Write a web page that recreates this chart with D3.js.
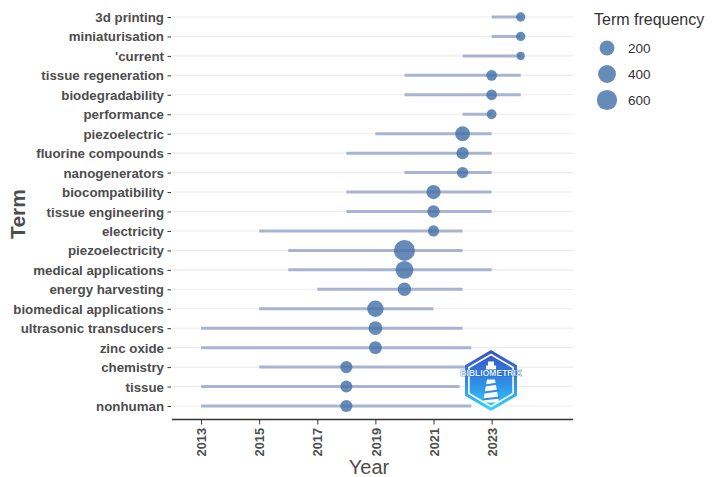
<!DOCTYPE html>
<html>
<head>
<meta charset="utf-8">
<script src="https://cdn.jsdelivr.net/npm/d3@7"></script>
<style>
  html, body { margin: 0; padding: 0; background: #fff; }
  svg { display: block; font-family: "Liberation Sans", Arial, sans-serif; }
</style>
</head>
<body>
<svg id="trend-svg" width="713" height="477"></svg>
<script>
// ── Data ─────────────────────────────────────────────────────────────────
const terms = [
  '3d printing', 'miniaturisation', "'current", 'tissue regeneration',
  'biodegradability', 'performance', 'piezoelectric', 'fluorine compounds',
  'nanogenerators', 'biocompatibility', 'tissue engineering', 'electricity',
  'piezoelectricity', 'medical applications', 'energy harvesting',
  'biomedical applications', 'ultrasonic transducers', 'zinc oxide',
  'chemistry', 'tissue', 'nonhuman'
];
const yearQ1  = [2023, 2023, 2022, 2020, 2020, 2022, 2019, 2018, 2020, 2018, 2018,
                 2015, 2016, 2016, 2017, 2015, 2013, 2013, 2015, 2013, 2013];
const yearMed = [2024, 2024, 2024, 2023, 2023, 2023, 2022, 2022, 2022, 2021, 2021,
                 2021, 2020, 2020, 2020, 2019, 2019, 2019, 2018, 2018, 2018];
const yearQ3  = [2024, 2024, 2024, 2024, 2024, 2023, 2023, 2023, 2023, 2023, 2023,
                 2022, 2022, 2023, 2022, 2021, 2022, 2022.3, 2022.3, 2021.9, 2022.3];
const freq    = [30, 30, 25, 52, 50, 35, 200, 89, 65, 170, 95,
                 60, 675, 400, 133, 297, 150, 112, 90, 80, 90];
const yearTicks   = [2013, 2015, 2017, 2019, 2021, 2023];
const legendFreqs = [200, 400, 600];

const rows = terms.map((t, i) => ({
  term: t, q1: yearQ1[i], med: yearMed[i], q3: yearQ3[i], n: freq[i]
}));

// ── Layout ───────────────────────────────────────────────────────────────
const svg = d3.select('#trend-svg');
const plot = { left: 172, right: 573 };
const axisY = 419.5;

const x = d3.scaleLinear().domain([2012, 2025.8]).range([plot.left, plot.right]);
const y = d3.scalePoint().domain(terms).range([17, 406]);

// ggplot-style area size scale: radius grows with sqrt of rescaled value
const nExt = [25, 675];
const rScale = n => {
  const t = Math.max(0, (n - nExt[0]) / (nExt[1] - nExt[0]));
  return 4.1 + (10.5 - 4.1) * Math.sqrt(t);
};

const DOT = '#4672aa';
const SEG = '#a9b3d2';
const TXT = '#4d4d4d';

// ── Grid lines ───────────────────────────────────────────────────────────
svg.append('g').selectAll('line').data(terms).join('line')
  .attr('x1', plot.left).attr('x2', plot.right)
  .attr('y1', d => y(d)).attr('y2', d => y(d))
  .attr('stroke', '#ebebeb').attr('stroke-width', 1.1);

// ── Segments (q1 → q3) ───────────────────────────────────────────────────
svg.append('g').selectAll('line').data(rows).join('line')
  .attr('x1', d => x(d.q1)).attr('x2', d => x(d.q3))
  .attr('y1', d => y(d.term)).attr('y2', d => y(d.term))
  .attr('stroke', SEG).attr('stroke-width', 3);

// ── Points (median year, size = frequency) ───────────────────────────────
svg.append('g').selectAll('circle').data(rows).join('circle')
  .attr('cx', d => x(d.med)).attr('cy', d => y(d.term))
  .attr('r', d => rScale(d.n))
  .attr('fill', DOT).attr('fill-opacity', 0.82);

// ── Y axis (ticks + labels, no line) ─────────────────────────────────────
const yAxis = svg.append('g')
  .attr('transform', `translate(${plot.left - 1},0)`)
  .call(d3.axisLeft(y).tickSize(3.5).tickPadding(3.5));
yAxis.select('.domain').remove();
yAxis.selectAll('.tick line').attr('stroke', '#333');
yAxis.selectAll('.tick text')
  .attr('fill', TXT).attr('font-size', 13.3).attr('font-weight', 'bold')
  .attr('font-family', '"Liberation Sans", Arial, sans-serif')
  .attr('dy', '0.34em');

// ── X axis ───────────────────────────────────────────────────────────────
const xAxis = svg.append('g')
  .attr('transform', `translate(0,${axisY})`)
  .call(d3.axisBottom(x).tickValues(yearTicks).tickFormat(d3.format('d'))
    .tickSize(5).tickSizeOuter(0));
xAxis.select('.domain').attr('d', `M${plot.left},0H${plot.right}`)
  .attr('stroke', '#333').attr('stroke-width', 1.3);
xAxis.selectAll('.tick line').attr('stroke', '#333');
xAxis.selectAll('.tick text')
  .attr('fill', TXT).attr('font-size', 12.8).attr('font-weight', 'bold')
  .attr('font-family', '"Liberation Sans", Arial, sans-serif')
  .attr('transform', 'rotate(-90)')
  .attr('text-anchor', 'end')
  .attr('x', -8.5).attr('y', 0).attr('dy', '0.36em');

// ── Axis titles ──────────────────────────────────────────────────────────
svg.append('text')
  .attr('x', 369).attr('y', 474)
  .attr('text-anchor', 'middle')
  .attr('font-size', 20).attr('fill', TXT)
  .text('Year');

svg.append('text')
  .attr('transform', 'translate(25,214) rotate(-90)')
  .attr('text-anchor', 'middle')
  .attr('font-size', 21).attr('font-weight', 'bold').attr('fill', TXT)
  .text('Term');

// ── Legend ───────────────────────────────────────────────────────────────
const legend = svg.append('g');
legend.append('text')
  .attr('x', 594).attr('y', 25)
  .attr('font-size', 16).attr('fill', '#333')
  .text('Term frequency');

const legY = d3.scalePoint().domain(legendFreqs).range([48, 100]);
const items = legend.selectAll('g.item').data(legendFreqs).join('g').attr('class', 'item');
items.append('circle')
  .attr('cx', 607).attr('cy', d => legY(d))
  .attr('r', d => rScale(d))
  .attr('fill', DOT).attr('fill-opacity', 0.82);
items.append('text')
  .attr('x', 628).attr('y', d => legY(d))
  .attr('dy', '0.36em')
  .attr('font-size', 13.5).attr('fill', '#333')
  .text(d => d);

// ── Bibliometrix badge ───────────────────────────────────────────────────
const logo = svg.append('g').attr('transform', 'translate(491,380.5)');
const grad = svg.append('defs').append('linearGradient')
  .attr('id', 'logo-grad').attr('x1', 0).attr('y1', 0).attr('x2', 0).attr('y2', 1);
grad.append('stop').attr('offset', '0%').attr('stop-color', '#3a4fc0');
grad.append('stop').attr('offset', '55%').attr('stop-color', '#2f8fe6');
grad.append('stop').attr('offset', '100%').attr('stop-color', '#35d6ff');

const hex = (rx, ry) => d3.range(6).map(k => {
  const a = Math.PI / 3 * k - Math.PI / 2;
  return [rx * Math.cos(a), ry * Math.sin(a)];
});
logo.append('polygon')
  .attr('points', hex(30, 30.5).map(p => p.join(',')).join(' '))
  .attr('fill', 'url(#logo-grad)');
logo.append('polygon')
  .attr('points', hex(25.5, 26).map(p => p.join(',')).join(' '))
  .attr('fill', 'none').attr('stroke', '#fff').attr('stroke-width', 1.6);

// lighthouse silhouette
logo.append('path')
  .attr('d', 'M-3,-19 L3,-19 L3,-15 L5,-15 L5,-11 L-5,-11 L-5,-15 L-3,-15 Z')
  .attr('fill', '#fff');
logo.append('path')
  .attr('d', 'M-4,-1 L4,-1 L8,22 L-8,22 Z')
  .attr('fill', '#fff');
logo.append('path')
  .attr('d', 'M-6,5 L7,3 M-7,12 L8,10 M-8,19 L9,17')
  .attr('stroke', '#2f8ee0').attr('stroke-width', 2.2);

logo.append('text')
  .attr('x', 0).attr('y', -4.5)
  .attr('text-anchor', 'middle')
  .attr('font-size', 8.4).attr('font-weight', 'bold')
  .attr('fill', '#dff3ff').attr('stroke', '#2a55c0').attr('stroke-width', 0.7)
  .attr('paint-order', 'stroke')
  .attr('letter-spacing', 0.1)
  .text('BIBLIOMETRIX');
</script>
</body>
</html>
